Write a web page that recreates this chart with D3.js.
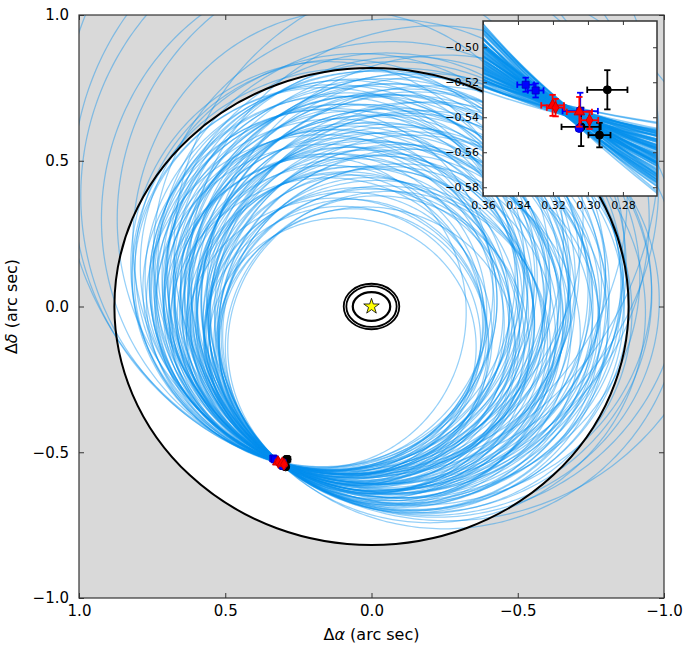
<!DOCTYPE html>
<html><head><meta charset="utf-8">
<script src="https://cdn.jsdelivr.net/npm/d3@7"></script>
<style>
body{margin:0;background:#fff;}
text{font-family:"DejaVu Sans",sans-serif;}
</style>
</head><body>
<svg id="chart" width="700" height="652"></svg>
<script>
// ---------------- data ----------------
const xTickValues = [1.0, 0.5, 0.0, -0.5, -1.0];
const xTickLabels = ["1.0", "0.5", "0.0", "\u22120.5", "\u22121.0"];
const yTickValues = [1.0, 0.5, 0.0, -0.5, -1.0];
const yTickLabels = ["1.0", "0.5", "0.0", "\u22120.5", "\u22121.0"];
const insetXTicks = [0.36, 0.34, 0.32, 0.30, 0.28];
const insetXLabels = ["0.36", "0.34", "0.32", "0.30", "0.28"];
const insetYTicks = [-0.50, -0.52, -0.54, -0.56, -0.58];
const insetYLabels = ["\u22120.50", "\u22120.52", "\u22120.54", "\u22120.56", "\u22120.58"];

// point where the family of orbits converges (arcsec)
const fanAnchor = [0.313, -0.536];
// projected orbit centres (arcsec) and axis ratios (N-S / E-W)
const orbitCenterAlpha = [
 -0.06,-0.02,0.02,0.06,0.10,
 -0.10,-0.06,-0.02,0.01,0.04,0.08,0.12,
 -0.14,-0.10,-0.06,-0.03,0.00,0.03,0.06,0.09,0.12,0.15,
 -0.17,-0.13,-0.09,-0.06,-0.03,0.00,0.03,0.06,0.09,0.12,0.15,0.18,
 -0.20,-0.15,-0.11,-0.07,-0.04,-0.01,0.02,0.05,0.08,0.11,0.14,0.17,
 -0.16,-0.12,-0.08,-0.05,-0.02,0.01,0.04,0.07,0.10,0.13,0.17,
 -0.08,-0.03,0.01,0.05,0.09,0.13,0.16,
 0.04,0.10,0.15,
 -0.04,0.02,0.07,-0.08,-0.02,0.04,0.10,-0.12,-0.06,0.00,0.06,0.12,-0.10,-0.04,0.03,0.08,
 -0.08,-0.01,0.05,0.10,0.00,-0.04,-0.11,-0.15,-0.18,0.14,0.16,0.13,-0.05,0.07,-0.13,0.07,-0.07,
 -0.04,-0.22,-0.25,0.06,-0.06,-0.26,0.04,-0.12,-0.20,
 0.10,0.02,0.08];
const orbitCenterDelta = [
 -0.14,-0.14,-0.14,-0.14,-0.14,
 -0.10,-0.10,-0.10,-0.10,-0.10,-0.10,-0.10,
 -0.06,-0.06,-0.06,-0.06,-0.06,-0.06,-0.06,-0.06,-0.06,-0.06,
 -0.02,-0.02,-0.02,-0.02,-0.02,-0.02,-0.02,-0.02,-0.02,-0.02,-0.02,-0.02,
 0.02,0.02,0.02,0.02,0.02,0.02,0.02,0.02,0.02,0.02,0.02,0.02,
 0.06,0.06,0.06,0.06,0.06,0.06,0.06,0.06,0.06,0.06,0.06,
 0.10,0.10,0.10,0.10,0.10,0.10,0.10,
 0.14,0.14,0.14,
 -0.04,-0.04,-0.04,0.00,0.00,0.00,0.00,0.04,0.04,0.04,0.04,0.04,0.08,0.08,0.08,0.08,
 -0.08,-0.08,-0.08,-0.12,-0.12,-0.12,-0.04,0.00,0.04,-0.04,0.00,0.08,0.12,0.12,-0.08,-0.12,0.14,
 0.30,0.12,0.05,0.38,0.18,0.20,0.55,0.10,-0.02,
 0.30,0.42,0.22];
const orbitAxisRatio = [
 0.97,1.00,0.94,1.03,0.97,
 0.96,1.02,0.93,1.05,0.96,1.00,0.92,
 0.97,0.94,1.02,0.95,1.04,0.92,1.00,0.96,1.03,0.93,
 0.96,1.00,0.93,1.04,0.97,0.91,1.02,0.95,1.05,0.92,1.00,1.06,
 0.94,0.98,1.02,0.93,1.00,0.96,1.04,0.92,0.98,0.94,1.03,0.95,
 0.93,1.00,0.96,1.02,0.91,0.97,1.04,0.93,1.00,0.95,1.05,
 0.95,0.92,1.00,0.94,1.03,0.96,1.00,
 0.97,1.00,1.04,
 0.98,1.00,0.95,0.97,1.02,0.94,1.01,0.95,1.00,0.96,1.03,0.97,0.98,0.94,1.00,0.96,
 1.00,0.96,1.02,0.98,1.00,0.95,0.96,0.98,0.96,1.00,0.96,1.02,1.00,0.93,0.95,1.04,0.96,
 1.00,1.00,1.00,1.02,1.00,1.00,1.10,0.95,0.98,
 1.05,1.00,1.08];
// small scatter of each orbit around the anchor (arcsec, in Δδ)
const anchorOffset = [
 0.002,-0.003,0.001,-0.001,0.003,0.000,-0.002,0.003,-0.003,0.001,
 0.002,-0.001,0.000,-0.002,0.003,0.001,-0.003,0.002,-0.001,0.000,
 0.001,-0.002,0.003,-0.003,0.002,0.000,-0.001,0.001,-0.002,0.003,
 0.000,0.002,-0.003,0.001,-0.001,0.002,-0.002,0.000,0.003,-0.001,
 0.001,-0.003,0.002,0.000,-0.002,0.003,-0.001,0.001,0.002,-0.003,
 0.000,0.001,-0.002,0.003,-0.001,0.002,0.000,-0.003,0.001,-0.002,
 0.002,0.000,-0.001,0.003,-0.002,0.001,-0.003,0.002,0.000,-0.001,
 0.001,0.003,-0.002,0.000,0.002,-0.001,-0.003,0.001,0.002,0.000,
 -0.002,0.001,0.003,-0.001,0.000,-0.002,0.002,-0.003,0.001,0.000,
 0.003,-0.002,0.001,-0.001,0.002,0.000,-0.003,0.002,-0.001,0.001,
 -0.002,0.003,0.000,-0.001,0.002,-0.003,0.001,0.000,-0.002,
 0.001,-0.002,0.002];

// outer boundary ellipse and rings around the star (arcsec semi-axes)
const boundaryRadii = [0.879, 0.818];
const ringRadiiX = [0.095, 0.086, 0.064];
const ringRadiiY = [0.078, 0.070, 0.049];

// astrometry
const blueAlpha = [0.3356, 0.3299, 0.3044, 0.3050];
const blueDelta = [-0.5214, -0.5247, -0.5365, -0.5464];
const blueAlphaErr = [0.0048, 0.0045, 0.0101, 0.0015];
const blueDeltaErr = [0.0040, 0.0040, 0.0105, 0.0015];
const blueShape = ["square", "square", "square", "circle"];
const redAlpha = [0.3202, 0.3185, 0.3049, 0.2991];
const redDelta = [-0.5332, -0.5345, -0.5369, -0.5417];
const redAlphaErr = [0.0065, 0.0050, 0.0072, 0.0050];
const redDeltaErr = [0.0060, 0.0050, 0.0085, 0.0050];
const redShape = ["triangle", "diamond", "triangle", "diamond"];
const blackAlpha = [0.2889, 0.3039, 0.2934];
const blackDelta = [-0.5243, -0.5455, -0.5502];
const blackAlphaErr = [0.0115, 0.0112, 0.0063];
const blackDeltaErr = [0.0112, 0.0110, 0.0070];

// ---------------- drawing ----------------
const svg = d3.select("#chart");
const PL = 79, PR = 664, PT = 15, PB = 598;
const x = d3.scaleLinear().domain([1, -1]).range([PL, PR]);
const y = d3.scaleLinear().domain([1, -1]).range([PT, PB]);
const IL = 483, IR = 657, IT = 21, IB = 196;
const xi = d3.scaleLinear().domain([0.36, 0.2605]).range([IL, IR]);
const yi = d3.scaleLinear().domain([-0.485, -0.585]).range([IT, IB]);

const orbitColor = "#0590ee";
const orbitOpacity = 0.42;

function orbitPoints(i) {
  const ax = fanAnchor[0], ay = fanAnchor[1] + anchorOffset[i];
  const cx = orbitCenterAlpha[i], cy = orbitCenterDelta[i], q = orbitAxisRatio[i];
  const dx = ax - cx, dy = ay - cy;
  const rx = Math.sqrt(dx * dx + dy * dy / (q * q)), ry = q * rx;
  return d3.range(0, 360, 1).map(k => {
    const t = k * Math.PI / 180;
    return [cx + rx * Math.cos(t), cy + ry * Math.sin(t)];
  });
}
const orbits = orbitCenterAlpha.map((_, i) => orbitPoints(i));

const defs = svg.append("defs");
defs.append("clipPath").attr("id", "mainClip").append("rect")
  .attr("x", PL).attr("y", PT).attr("width", PR - PL).attr("height", PB - PT);
defs.append("clipPath").attr("id", "insetClip").append("rect")
  .attr("x", IL).attr("y", IT).attr("width", IR - IL).attr("height", IB - IT);

svg.append("rect").attr("x", PL).attr("y", PT).attr("width", PR - PL).attr("height", PB - PT).attr("fill", "#d9d9d9");
const main = svg.append("g").attr("clip-path", "url(#mainClip)");
main.append("ellipse").attr("cx", x(0)).attr("cy", y(0))
  .attr("rx", x(0) - x(boundaryRadii[0])).attr("ry", y(-boundaryRadii[1]) - y(0))
  .attr("fill", "#fff");

const lineMain = d3.line().x(d => x(d[0])).y(d => y(d[1])).curve(d3.curveLinearClosed);
main.append("g").selectAll("path").data(orbits).join("path")
  .attr("d", lineMain).attr("fill", "none").attr("stroke", orbitColor)
  .attr("stroke-opacity", orbitOpacity).attr("stroke-width", 1.25);

main.append("ellipse").attr("cx", x(0)).attr("cy", y(0))
  .attr("rx", x(0) - x(boundaryRadii[0])).attr("ry", y(-boundaryRadii[1]) - y(0))
  .attr("fill", "none").attr("stroke", "#000").attr("stroke-width", 2);

main.append("g").selectAll("ellipse").data(ringRadiiX).join("ellipse")
  .attr("cx", x(0)).attr("cy", y(0))
  .attr("rx", d => x(0) - x(d)).attr("ry", (d, i) => y(-ringRadiiY[i]) - y(0))
  .attr("fill", "none").attr("stroke", "#000").attr("stroke-width", (d, i) => i === 2 ? 2.2 : 1.8);

main.append("path").attr("d", d3.symbol(d3.symbolStar, 75)())
  .attr("transform", `translate(${x(0)},${y(0)})`)
  .attr("fill", "#ffff00").attr("stroke", "#000").attr("stroke-width", 0.8);

function shapePath(s) {
  const m = {square: d3.symbolSquare, circle: d3.symbolCircle, triangle: d3.symbolTriangle, diamond: d3.symbolDiamond};
  const size = {square: 48, circle: 50, triangle: 48, diamond: 40};
  return d3.symbol(m[s], size[s])();
}
function drawPoints(g, xs, ys, A, D, AE, DE, shapes, color, edge) {
  const grp = g.append("g");
  A.forEach((a, i) => {
    const px = xs(a), py = ys(D[i]);
    const x0 = xs(a + AE[i]), x1 = xs(a - AE[i]);
    const y0 = ys(D[i] + DE[i]), y1 = ys(D[i] - DE[i]);
    const cap = 3.2;
    const e = grp.append("g").attr("stroke", color).attr("stroke-width", 1.8).attr("fill", "none");
    e.append("line").attr("x1", x0).attr("x2", x1).attr("y1", py).attr("y2", py);
    e.append("line").attr("x1", px).attr("x2", px).attr("y1", y0).attr("y2", y1);
    e.append("line").attr("x1", x0).attr("x2", x0).attr("y1", py - cap).attr("y2", py + cap);
    e.append("line").attr("x1", x1).attr("x2", x1).attr("y1", py - cap).attr("y2", py + cap);
    e.append("line").attr("x1", px - cap).attr("x2", px + cap).attr("y1", y0).attr("y2", y0);
    e.append("line").attr("x1", px - cap).attr("x2", px + cap).attr("y1", y1).attr("y2", y1);
    grp.append("path").attr("d", shapePath(shapes[i])).attr("transform", `translate(${px},${py})`)
      .attr("fill", color).attr("stroke", edge).attr("stroke-width", 1);
  });
}
function drawAll(g, xs, ys) {
  drawPoints(g, xs, ys, blackAlpha, blackDelta, blackAlphaErr, blackDeltaErr, blackAlpha.map(() => "circle"), "#000", "#000");
  drawPoints(g, xs, ys, blueAlpha, blueDelta, blueAlphaErr, blueDeltaErr, blueShape, "#0000ff", "#0000cc");
  drawPoints(g, xs, ys, redAlpha, redDelta, redAlphaErr, redDeltaErr, redShape, "#ff0000", "#cc0000");
}
drawAll(main, x, y);

const frameColor = "#333";
svg.append("rect").attr("x", PL).attr("y", PT).attr("width", PR - PL).attr("height", PB - PT)
  .attr("fill", "none").attr("stroke", frameColor).attr("stroke-width", 1.2);
function styleAxis(g, fs) {
  g.select(".domain").remove();
  g.selectAll(".tick line").attr("stroke", frameColor).attr("stroke-width", 1);
  g.selectAll(".tick text").attr("fill", "#000").style("font-size", fs + "px").style("font-family", "DejaVu Sans, sans-serif");
}
styleAxis(svg.append("g").attr("transform", `translate(0,${PB})`)
  .call(d3.axisBottom(x).tickValues(xTickValues).tickFormat((d, i) => xTickLabels[i]).tickSizeInner(-5).tickSizeOuter(0).tickPadding(7)), 15);
styleAxis(svg.append("g").attr("transform", `translate(0,${PT})`)
  .call(d3.axisTop(x).tickValues(xTickValues).tickFormat("").tickSizeInner(-5).tickSizeOuter(0)), 15);
styleAxis(svg.append("g").attr("transform", `translate(${PL},0)`)
  .call(d3.axisLeft(y).tickValues(yTickValues).tickFormat((d, i) => yTickLabels[i]).tickSizeInner(-5).tickSizeOuter(0).tickPadding(10)), 15);
styleAxis(svg.append("g").attr("transform", `translate(${PR},0)`)
  .call(d3.axisRight(y).tickValues(yTickValues).tickFormat("").tickSizeInner(-5).tickSizeOuter(0)), 15);

const xl = svg.append("text").attr("x", (PL + PR) / 2).attr("y", 640).attr("text-anchor", "middle").style("font-size", "16px");
xl.append("tspan").text("\u0394");
xl.append("tspan").style("font-style", "italic").text("\u03b1");
xl.append("tspan").text(" (arc sec)");
const yl = svg.append("text").attr("transform", `translate(17,${(PT + PB) / 2}) rotate(-90)`).attr("text-anchor", "middle").style("font-size", "16px");
yl.append("tspan").text("\u0394");
yl.append("tspan").style("font-style", "italic").text("\u03b4");
yl.append("tspan").text(" (arc sec)");

// ---------------- inset ----------------
svg.append("rect").attr("x", IL).attr("y", IT).attr("width", IR - IL).attr("height", IB - IT).attr("fill", "#fff");
const inset = svg.append("g").attr("clip-path", "url(#insetClip)");
const lineInset = d3.line().x(d => xi(d[0])).y(d => yi(d[1])).curve(d3.curveLinearClosed);
inset.append("g").selectAll("path").data(orbits).join("path")
  .attr("d", lineInset).attr("fill", "none").attr("stroke", orbitColor)
  .attr("stroke-opacity", 0.45).attr("stroke-width", 1.6);
drawAll(inset, xi, yi);
svg.append("rect").attr("x", IL).attr("y", IT).attr("width", IR - IL).attr("height", IB - IT)
  .attr("fill", "none").attr("stroke", frameColor).attr("stroke-width", 1.5);
styleAxis(svg.append("g").attr("transform", `translate(0,${IB})`)
  .call(d3.axisBottom(xi).tickValues(insetXTicks).tickFormat((d, i) => insetXLabels[i]).tickSizeInner(-4).tickSizeOuter(0).tickPadding(5)), 11);
styleAxis(svg.append("g").attr("transform", `translate(0,${IT})`)
  .call(d3.axisTop(xi).tickValues(insetXTicks).tickFormat("").tickSizeInner(-4).tickSizeOuter(0)), 11);
styleAxis(svg.append("g").attr("transform", `translate(${IL},0)`)
  .call(d3.axisLeft(yi).tickValues(insetYTicks).tickFormat((d, i) => insetYLabels[i]).tickSizeInner(-4).tickSizeOuter(0).tickPadding(4)), 11);
styleAxis(svg.append("g").attr("transform", `translate(${IR},0)`)
  .call(d3.axisRight(yi).tickValues(insetYTicks).tickFormat("").tickSizeInner(-4).tickSizeOuter(0)), 11);
</script>
</body></html>
